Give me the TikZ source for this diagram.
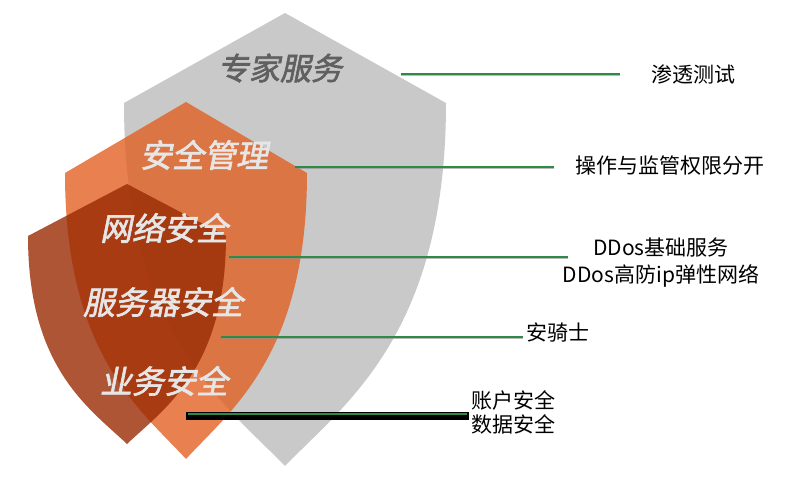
\documentclass[tikz,border=0pt]{standalone}
\usepackage{fontspec}
\newfontfamily\cjk{Noto Sans CJK SC}
\newfontfamily\cjkit{Noto Sans CJK SC}[FakeSlant=0.2, FakeBold=2]
\definecolor{shgray}{RGB}{200,201,200}
\definecolor{shorange}{RGB}{226,96,36}
\definecolor{shdark}{RGB}{152,42,3}
\definecolor{lgreen}{RGB}{46,139,69}
\definecolor{ttgray}{RGB}{96,96,96}
\definecolor{ttwhite}{RGB}{230,230,230}
\tikzset{
  shieldgray/.style={fill=shgray, draw=none},
  shieldorange/.style={fill=shorange, fill opacity=0.8, draw=none},
  shielddark/.style={fill=shdark, fill opacity=0.8, draw=none},
  shtxt/.style={font=\cjkit\fontsize{32}{36}\selectfont, text=ttwhite, inner sep=0pt},
  toptxt/.style={font=\cjkit\fontsize{31}{36}\selectfont, text=ttgray, inner sep=0pt},
  lbl/.style={font=\cjk\fontsize{21}{27}\selectfont, text=black, inner sep=0pt},
  gline/.style={draw=lgreen, line width=1.6pt,
    preaction={draw=black!45, draw opacity=0.6, line width=1.2pt, transform canvas={yshift=-1.3pt}}},
  bline/.style={draw=black, line width=8pt}
}
\begin{document}
\begin{tikzpicture}[x=1pt,y=-1pt]
\useasboundingbox (0,0) rectangle (796,478);
% shields
\path[shieldgray] (285,13) -- (446,103) .. controls (446,333) and (346,403) .. (285,466)
  .. controls (224,403) and (124,333) .. (124,103) -- cycle;
\path[shieldorange] (186,102) -- (307,173) .. controls (307,354) and (232,409) .. (186,459)
  .. controls (140,409) and (65,354) .. (65,173) -- cycle;
\path[shielddark] (127,184) -- (226,236) .. controls (226,368) and (165,408) .. (127,444)
  .. controls (89,408) and (28,368) .. (28,236) -- cycle;
% shield texts
\node[toptxt] (t1) at (280,68) {专家服务};
\node[shtxt] (t2) at (204,155) {安全管理};
\node[shtxt] (t3) at (164,228) {网络安全};
\node[shtxt] (t4) at (163,302) {服务器安全};
\node[shtxt] (t5) at (164,381) {业务安全};
% connector end points
\coordinate (s1) at (401,74);  \coordinate (e1) at (620,74);
\coordinate (s2) at (295,167); \coordinate (e2) at (554,167);
\coordinate (s3) at (229,257); \coordinate (e3) at (568,257);
\coordinate (s4) at (221,337); \coordinate (e4) at (523,337);
\coordinate (s5) at (186,416); \coordinate (e5) at (469,416);
\coordinate (g5s) at (188,413.8); \coordinate (g5e) at (467,413.8);
% connectors
\draw[gline] (s1) -- (e1);
\draw[gline] (s2) -- (e2);
\draw[gline] (s3) -- (e3);
\draw[gline] (s4) -- (e4);
\draw[bline] (s5) -- (e5);
\draw[draw=lgreen, line width=2pt] (g5s) -- (g5e);
% labels
\node[lbl] (l1) at (693,74) {渗透测试};
\node[lbl] (l2) at (670,166) {操作与监管权限分开};
\node[lbl, align=center] (l3) at (661,262.5) {DDos基础服务\\DDos高防ip弹性网络};
\node[lbl] (l4) at (558,333) {安骑士};
\node[lbl, align=left, anchor=west, font=\cjk\fontsize{21}{24}\selectfont] (l5) at (471,412) {账户安全\\数据安全};
\end{tikzpicture}
\end{document}
